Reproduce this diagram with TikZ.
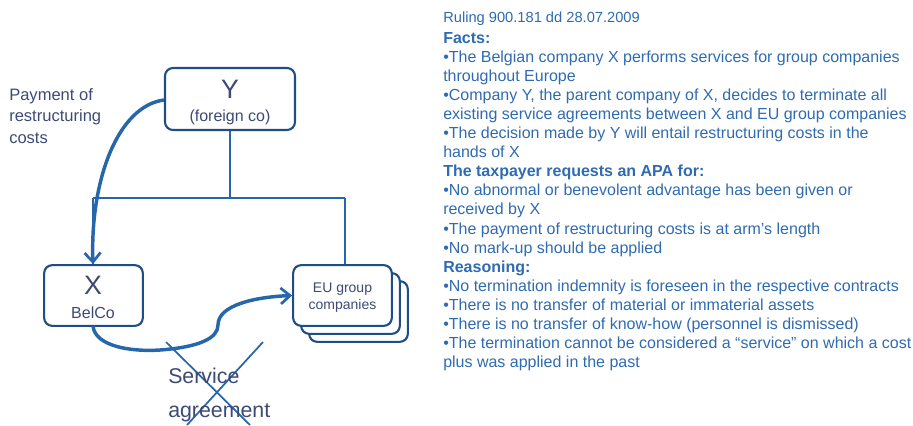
\documentclass[tikz,border=0pt]{standalone}
\usepackage{fontspec}
\setmainfont{Liberation Sans}
\usetikzlibrary{arrows.meta}
\definecolor{txtblue}{HTML}{2F6BB0}
\definecolor{boxborder}{HTML}{1F4E85}
\definecolor{lineblue}{HTML}{2666AA}
\definecolor{boxtext}{HTML}{3D4A75}
\tikzset{
  cobox/.style={draw=boxborder, line width=1.6pt, rounded corners=6pt, fill=white, inner sep=0pt},
  tree/.style={draw=lineblue, line width=1.5pt},
  flow/.style={draw=lineblue, line width=2.6pt, -{Straight Barb[length=7pt,width=12pt,line width=2pt]}},
  crossline/.style={draw=lineblue, line width=1.3pt},
  lbl/.style={text=boxtext, inner sep=0pt, anchor=base},
  rt/.style={text=txtblue, inner sep=0pt, anchor=base west, font=\fontsize{12}{14}\selectfont},
  rtb/.style={rt, font=\fontsize{12}{14}\selectfont\bfseries},
}
\begin{document}
\begin{tikzpicture}[x=0.75pt,y=-0.75pt]
\useasboundingbox (0,0) rectangle (913,425);
% tree lines
\coordinate (tj) at (230,198);
\coordinate (tl) at (93,198);
\coordinate (tr) at (345,198);
% boxes
\node[cobox, minimum width=97.5pt, minimum height=46.5pt] (Y) at (230,99) {};
\node[cobox, minimum width=74pt, minimum height=45.5pt] (X) at (93.5,295.5) {};
\node[cobox, minimum width=74pt, minimum height=45.5pt] (EU3) at (358.5,311.5) {};
\node[cobox, minimum width=74pt, minimum height=45.5pt] (EU2) at (350.5,303.5) {};
\node[cobox, minimum width=74pt, minimum height=45.5pt] (EU) at (342.5,295.5) {};
\draw[tree] (Y.south) -- (tj);
\draw[tree] (tl) -- (tr);
\draw[tree] (tl) -- (tl |- X.north);
\draw[tree] (tr) -- (tr |- EU.north);
% box labels
\node[lbl, font=\fontsize{20}{22}\selectfont] (Yl) at (230,98) {Y};
\node[lbl, font=\fontsize{12}{14}\selectfont] (Ysub) at (230,121) {(foreign co)};
\node[lbl, font=\fontsize{20}{22}\selectfont] (Xl) at (93,294) {X};
\node[lbl, font=\fontsize{12}{14}\selectfont] (Xsub) at (93,318) {BelCo};
\node[lbl, font=\fontsize{10.5}{12}\selectfont] (EUl1) at (342.5,292) {EU group};
\node[lbl, font=\fontsize{10.5}{12}\selectfont] (EUl2) at (342.5,309) {companies};
% flows
\draw[flow] (Y.west |- 0,100) .. controls (118,106) and (90,180) .. (X.north -| 93,0);
\draw[flow] (93,326) .. controls (95,346) and (130,352) .. (160,350)
   .. controls (200,347) and (218,338) .. (218,325)
   .. controls (218,305) and (255,297) .. (EU.west);
% cross
\coordinate (c1a) at (166,342); \coordinate (c1b) at (250,425);
\coordinate (c2a) at (263,342); \coordinate (c2b) at (187,425);
\draw[crossline] (c1a) -- (c1b);
\draw[crossline] (c2a) -- (c2b);
% left labels
\node[text=boxtext, inner sep=0pt, anchor=base west, font=\fontsize{12.4}{14}\selectfont] (p1) at (9,100) {Payment of};
\node[text=boxtext, inner sep=0pt, anchor=base west, font=\fontsize{12.4}{14}\selectfont] (p2) at (9,121.5) {restructuring};
\node[text=boxtext, inner sep=0pt, anchor=base west, font=\fontsize{12.4}{14}\selectfont] (p3) at (9,143) {costs};
\node[text=boxtext, inner sep=0pt, anchor=base west, font=\fontsize{16}{18}\selectfont] (s1) at (168,383) {Service};
\node[text=boxtext, inner sep=0pt, anchor=base west, font=\fontsize{16}{18}\selectfont] (s2) at (168,417) {agreement};
% right text
\node[rt, font=\fontsize{11}{13}\selectfont] (r0) at (443,22) {Ruling 900.181 dd 28.07.2009};
\node[rtb] (r1) at (443,43) {Facts:};
\node[rt] (r2) at (443,62.1) {•The Belgian company X performs services for group companies};
\node[rt] (r3) at (443,81.2) {throughout Europe};
\node[rt] (r4) at (443,100.3) {•Company Y, the parent company of X, decides to terminate all};
\node[rt] (r5) at (443,119.4) {existing service agreements between X and EU group companies};
\node[rt] (r6) at (443,138.5) {•The decision made by Y will entail restructuring costs in the};
\node[rt] (r7) at (443,157.6) {hands of X};
\node[rtb] (r8) at (443,176.7) {The taxpayer requests an APA for:};
\node[rt] (r9) at (443,195.8) {•No abnormal or benevolent advantage has been given or};
\node[rt] (r10) at (443,214.9) {received by X};
\node[rt] (r11) at (443,234) {•The payment of restructuring costs is at arm’s length};
\node[rt] (r12) at (443,253.1) {•No mark-up should be applied};
\node[rtb] (r13) at (443,272.2) {Reasoning:};
\node[rt] (r14) at (443,291.3) {•No termination indemnity is foreseen in the respective contracts};
\node[rt] (r15) at (443,310.4) {•There is no transfer of material or immaterial assets};
\node[rt] (r16) at (443,329.5) {•There is no transfer of know-how (personnel is dismissed)};
\node[rt] (r17) at (443,348.6) {•The termination cannot be considered a “service” on which a cost};
\node[rt] (r18) at (443,367.7) {plus was applied in the past};
\end{tikzpicture}
\end{document}
